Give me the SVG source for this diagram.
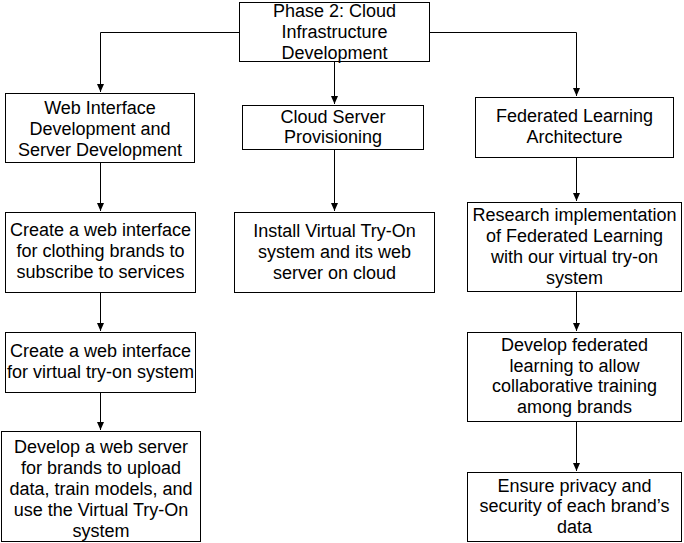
<svg xmlns="http://www.w3.org/2000/svg" width="684" height="543" viewBox="0 0 684 543">
<style>
.box{fill:#fff;stroke:#000;stroke-width:1}
.t{font-family:"Liberation Sans",Arial,sans-serif;font-size:18px;fill:#000;text-anchor:middle}
.c{fill:none;stroke:#000;stroke-width:1}
</style>
<defs>
<marker id="ah" markerUnits="userSpaceOnUse" markerWidth="9" markerHeight="9" refX="8" refY="4" orient="auto">
<path d="M0,0.5 L8,4 L0,7.5 Z" fill="#000"/>
</marker>
</defs>
<rect width="684" height="543" fill="#fff"/>
<g id="connectors">
<path class="c" d="M239,32.5 H100.5 V92" marker-end="url(#ah)"/>
<path class="c" d="M334.5,62 V104" marker-end="url(#ah)"/>
<path class="c" d="M430,32.5 H576.5 V96" marker-end="url(#ah)"/>
<path class="c" d="M100.5,162 V211" marker-end="url(#ah)"/>
<path class="c" d="M100.5,292 V331" marker-end="url(#ah)"/>
<path class="c" d="M100.5,392 V430" marker-end="url(#ah)"/>
<path class="c" d="M334.5,149 V211" marker-end="url(#ah)"/>
<path class="c" d="M576.5,158 V201" marker-end="url(#ah)"/>
<path class="c" d="M576.5,292 V331" marker-end="url(#ah)"/>
<path class="c" d="M576.5,422 V471" marker-end="url(#ah)"/>
</g>
<g id="phase2">
<rect class="box" x="239.5" y="2.5" width="190" height="59"/>
<text class="t" x="334.5" y="17">Phase 2: Cloud</text>
<text class="t" x="334.5" y="38">Infrastructure</text>
<text class="t" x="334.5" y="59">Development</text>
</g>
<g id="webdev">
<rect class="box" x="5.5" y="93.5" width="189" height="69"/>
<text class="t" x="100" y="114">Web Interface</text>
<text class="t" x="100" y="135">Development and</text>
<text class="t" x="100" y="156">Server Development</text>
</g>
<g id="cloudserver">
<rect class="box" x="242.5" y="105.5" width="181" height="44"/>
<text class="t" x="333" y="123">Cloud Server</text>
<text class="t" x="333" y="143">Provisioning</text>
</g>
<g id="fedarch">
<rect class="box" x="475.5" y="97.5" width="198" height="60"/>
<text class="t" x="574.5" y="122">Federated Learning</text>
<text class="t" x="574.5" y="143">Architecture</text>
</g>
<g id="createweb1">
<rect class="box" x="5.5" y="212.5" width="190" height="80"/>
<text class="t" x="100.5" y="236">Create a web interface</text>
<text class="t" x="100.5" y="257">for clothing brands to</text>
<text class="t" x="100.5" y="278">subscribe to services</text>
</g>
<g id="install">
<rect class="box" x="234.5" y="212.5" width="200" height="80"/>
<text class="t" x="334.5" y="237">Install Virtual Try-On</text>
<text class="t" x="334.5" y="258">system and its web</text>
<text class="t" x="334.5" y="279">server on cloud</text>
</g>
<g id="research">
<rect class="box" x="467.5" y="202.5" width="214" height="89"/>
<text class="t" x="574.5" y="221">Research implementation</text>
<text class="t" x="574.5" y="242">of Federated Learning</text>
<text class="t" x="574.5" y="263">with our virtual try-on</text>
<text class="t" x="574.5" y="284">system</text>
</g>
<g id="createweb2">
<rect class="box" x="5.5" y="332.5" width="190" height="60"/>
<text class="t" x="100.5" y="357">Create a web interface</text>
<text class="t" x="100.5" y="378">for virtual try-on system</text>
</g>
<g id="developfed">
<rect class="box" x="467.5" y="332.5" width="214" height="89"/>
<text class="t" x="574.5" y="351">Develop federated</text>
<text class="t" x="574.5" y="372">learning to allow</text>
<text class="t" x="574.5" y="392">collaborative training</text>
<text class="t" x="574.5" y="413">among brands</text>
</g>
<g id="webserver">
<rect class="box" x="1.5" y="431.5" width="199" height="110"/>
<text class="t" x="101" y="453">Develop a web server</text>
<text class="t" x="101" y="474">for brands to upload</text>
<text class="t" x="101" y="495">data, train models, and</text>
<text class="t" x="101" y="516">use the Virtual Try-On</text>
<text class="t" x="101" y="537">system</text>
</g>
<g id="privacy">
<rect class="box" x="467.5" y="472.5" width="214" height="69"/>
<text class="t" x="574.5" y="492">Ensure privacy and</text>
<text class="t" x="574.5" y="512">security of each brand’s</text>
<text class="t" x="574.5" y="533">data</text>
</g>
</svg>
